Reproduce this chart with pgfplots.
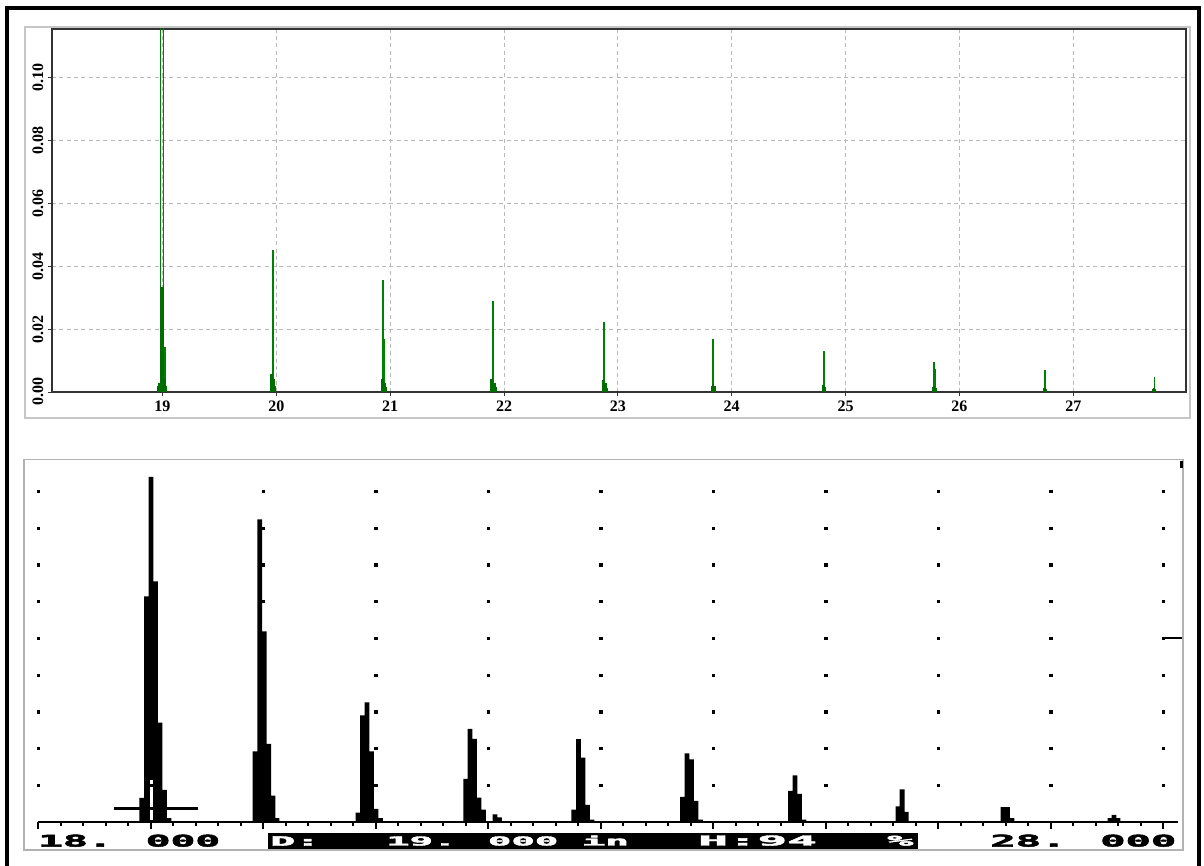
\documentclass[border=0pt]{standalone}
\usepackage{pgfplots}
\pgfplotsset{compat=1.18}
\usepackage{graphicx}
\usepackage{fontspec}
\setmainfont{Liberation Serif}
\newfontfamily\lcd{DejaVu Sans Mono}[BoldFeatures={FakeBold=2.5}]
\definecolor{plotgreen}{RGB}{0,128,0}

\begin{document}
\begin{tikzpicture}
\useasboundingbox (0,0) rectangle (903pt,648.75pt);
\fill[white] (0,0) rectangle (903pt,648.75pt);
% outer frame
\draw[line width=2.6pt] (5.25pt,-6pt) -- (5.25pt,642.75pt) -- (899.25pt,642.75pt) -- (899.25pt,-6pt);
% frame round the upper chart
\draw[gray!45, line width=0.8pt] (18.75pt,335.25pt) rectangle (892.5pt,628.5pt);

% ---------- upper chart ----------
\begin{axis}[
  at={(39pt,354.75pt)}, anchor=south west,
  scale only axis, width=850.5pt, height=272.25pt,
  xmin=18.03, xmax=27.99, ymin=0, ymax=0.1155,
  xtick={19,20,21,22,23,24,25,26,27},
  ytick={0,0.02,0.04,0.06,0.08,0.1},
  tick pos=left, tick align=outside,
  major tick length=3pt,
  tick style={black!80, line width=0.6pt},
  axis line style={black!80, line width=0.8pt},
  grid=major,
  grid style={gray!55, line width=0.6pt, dash pattern=on 3pt off 2.5pt},
  /pgf/number format/assume math mode=true,
  tick label style={font=\bfseries\fontsize{12}{13}\selectfont},
  y tick label style={rotate=90, anchor=south,
    /pgf/number format/.cd, fixed, fixed zerofill, precision=2, /tikz/.cd},
]
% off-scale echo at 19
\addplot[ycomb, color=plotgreen, line width=0.7pt, mark=none] coordinates {
 (18.980,0.13) (19.013,0.13)
};
% thin spikes
\addplot[ycomb, color=plotgreen, line width=1.1pt, mark=none] coordinates {
 (19.010,0.053) (19.024,0.0144)
 (19.969,0.0452) (19.976,0.0093)
 (20.938,0.0355) (20.946,0.0170)
 (21.903,0.0289) (21.909,0.0240)
 (22.878,0.0224) (22.884,0.0200)
 (23.835,0.0170) (23.842,0.0090)
 (24.810,0.0131)
 (25.778,0.0095) (25.784,0.0072)
 (26.750,0.0070) (26.756,0.0064)
 (27.712,0.0048)
};
% dense parts of each peak
\addplot[ycomb, color=plotgreen!85!black, line width=1.6pt, mark=none] coordinates {
 (18.988,0.0334) (18.995,0.0334) (19.002,0.0334)
 (18.962,0.002) (18.972,0.003) (19.020,0.004) (19.032,0.002)
 (19.950,0.0056) (19.960,0.0056) (19.982,0.0040) (19.992,0.002)
 (20.925,0.0040) (20.934,0.0045) (20.952,0.0030) (20.962,0.0015)
 (21.890,0.0040) (21.898,0.0042) (21.916,0.0030) (21.926,0.0015)
 (22.866,0.0035) (22.873,0.0038) (22.891,0.0028) (22.900,0.0012)
 (23.825,0.0020) (23.832,0.0025) (23.849,0.0018)
 (24.800,0.0018) (24.806,0.0022) (24.818,0.0015)
 (25.770,0.0015) (25.774,0.0018) (25.790,0.0012)
 (26.742,0.0012) (26.747,0.0014) (26.762,0.0010)
 (27.705,0.0010) (27.709,0.0012) (27.718,0.0008)
};
\end{axis}

% ---------- lower chart: flaw detector screen ----------
\begin{axis}[
  at={(18pt,11.25pt)}, anchor=south west,
  scale only axis, width=869.25pt, height=292.875pt,
  xmin=17.873, xmax=28.175, ymin=-7.7, ymax=98.7,
  ticks=none,
  axis line style={gray!60, line width=1.4pt},
]
% dot grid
\pgfplotsinvokeforeach{18,19,20,21,22,23,24,25,26,27,28}{
  \addplot[only marks, black, mark=square*, mark size=0.85pt] coordinates {
   (#1,10) (#1,20) (#1,30) (#1,40) (#1,50) (#1,60) (#1,70) (#1,80) (#1,90)};
}
% echoes
\addplot[ybar, bar width=0.043, bar shift=0pt, fill=black, draw=none] coordinates {
 (18.919,6.5) (18.962,61.4) (19.002,94) (19.042,65.5) (19.082,27) (19.122,8.7) (19.162,1)
 (19.926,19.2) (19.968,82.4) (20.009,51.9) (20.048,21.2) (20.086,7.1) (20.122,1)
 (20.842,2.5) (20.882,29) (20.922,32.5) (20.962,19.2) (21.002,3.5) (21.042,1)
 (21.799,11.7) (21.837,25.3) (21.877,22.6) (21.917,6.6) (21.957,3.3) (22.060,2.0) (22.100,1.2)
 (22.760,3.3) (22.802,22.5) (22.842,17.5) (22.882,4.6) (22.922,0.6)
 (23.726,6.8) (23.766,18.6) (23.806,17) (23.846,5.7) (23.886,0.6)
 (24.686,8.4) (24.726,12.6) (24.766,7.6) (24.806,0.6)
 (25.642,4.2) (25.678,8.8) (25.714,2.7)
 (26.575,4) (26.615,4) (26.655,1)
 (27.526,1) (27.562,1.9) (27.597,1)
};
% cursor and gate
\fill[white] (18.990,0.4) rectangle (19.016,11.3);
\draw[black, line width=2.2pt] (18.67,3.6) -- (19.42,3.6);
% base line with ticks
\draw[black, line width=1.5pt] (18,0) -- (28.13,0);
\addplot[ycomb, black, line width=1.5pt, mark=none] coordinates {
 (18,-2) (18.2,-1.2) (18.4,-1.2) (18.6,-1.2) (18.8,-1.2)
 (19,-2) (19.2,-1.2) (19.4,-1.2) (19.6,-1.2) (19.8,-1.2)
 (20,-2) (20.2,-1.2) (20.4,-1.2) (20.6,-1.2) (20.8,-1.2)
 (21,-2) (21.2,-1.2) (21.4,-1.2) (21.6,-1.2) (21.8,-1.2)
 (22,-2) (22.2,-1.2) (22.4,-1.2) (22.6,-1.2) (22.8,-1.2)
 (23,-2) (23.2,-1.2) (23.4,-1.2) (23.6,-1.2) (23.8,-1.2)
 (24,-2) (24.2,-1.2) (24.4,-1.2) (24.6,-1.2) (24.8,-1.2)
 (25,-2) (25.2,-1.2) (25.4,-1.2) (25.6,-1.2) (25.8,-1.2)
 (26,-2) (26.2,-1.2) (26.4,-1.2) (26.6,-1.2) (26.8,-1.2)
 (27,-2) (27.2,-1.2) (27.4,-1.2) (27.6,-1.2) (27.8,-1.2)
 (28,-2)
};
% markers on the right edge
\draw[black, line width=1.5pt] (27.988,50) -- (28.166,50);
\draw[black, line width=1.8pt] (28.160,96.4) -- (28.160,98.4);
% status line
\fill[black] (20.042,-3.0) rectangle (25.82,-7.3);
\node[anchor=south west, inner sep=0pt] at (17.997,-6.9)
  {\resizebox{136.5pt}{9pt}{\lcd\bfseries 18. 000}};
\node[anchor=south west, inner sep=0pt, white] at (20.06,-6.6)
  {\resizebox{37.5pt}{7pt}{\lcd\bfseries D:}};
\node[anchor=south west, inner sep=0pt, white] at (21.09,-6.6)
  {\resizebox{182pt}{7.5pt}{\lcd\bfseries 19. 000 in}};
\node[anchor=south west, inner sep=0pt, white] at (23.864,-6.6)
  {\resizebox{89pt}{7.5pt}{\lcd\bfseries H:94}};
\node[anchor=south west, inner sep=0pt, white] at (25.544,-6.6)
  {\resizebox{19.5pt}{7.5pt}{\lcd\bfseries \%}};
\node[anchor=south west, inner sep=0pt] at (26.46,-6.9)
  {\resizebox{139.5pt}{9pt}{\lcd\bfseries 28. 000}};
\end{axis}
\end{tikzpicture}
\end{document}
